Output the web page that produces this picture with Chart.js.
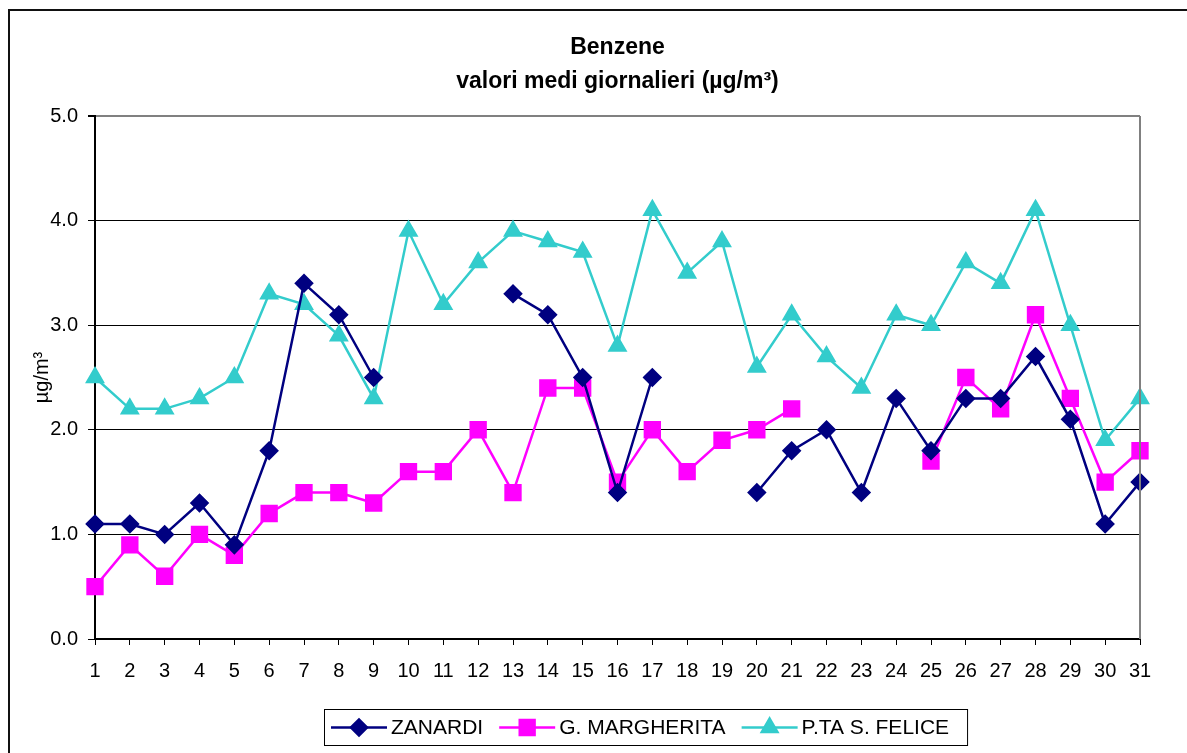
<!DOCTYPE html>
<html>
<head>
<meta charset="utf-8">
<script src="https://cdn.jsdelivr.net/npm/chart.js@4.4.0/dist/chart.umd.min.js"></script>
<style>
  html, body { margin: 0; padding: 0; background: #fff; overflow: hidden; }
  #wrap { position: relative; width: 1187px; height: 753px; }
  #frame { position: absolute; left: 8px; top: 9px; width: 2000px; height: 2000px;
           border: 2px solid #111; pointer-events: none; }
</style>
</head>
<body>
<div id="wrap">
  <canvas id="benzene" width="1187" height="753"></canvas>
  <div id="frame"></div>
</div>
<script>
// giorni del mese
const days = ['1','2','3','4','5','6','7','8','9','10','11','12','13','14','15','16',
              '17','18','19','20','21','22','23','24','25','26','27','28','29','30','31'];

// valori medi giornalieri (µg/m3), null = dato mancante
const zanardi = [1.1, 1.1, 1.0, 1.3, 0.9, 1.8, 3.4, 3.1, 2.5, null, null, null, 3.3, 3.1, 2.5, 1.4,
                 2.5, null, null, 1.4, 1.8, 2.0, 1.4, 2.3, 1.8, 2.3, 2.3, 2.7, 2.1, 1.1, 1.5];
const margherita = [0.5, 0.9, 0.6, 1.0, 0.8, 1.2, 1.4, 1.4, 1.3, 1.6, 1.6, 2.0, 1.4, 2.4, 2.4, 1.5,
                    2.0, 1.6, 1.9, 2.0, 2.2, null, null, null, 1.7, 2.5, 2.2, 3.1, 2.3, 1.5, 1.8];
const felice = [2.5, 2.2, 2.2, 2.3, 2.5, 3.3, 3.2, 2.9, 2.3, 3.9, 3.2, 3.6, 3.9, 3.8, 3.7, 2.8,
                4.1, 3.5, 3.8, 2.6, 3.1, 2.7, 2.4, 3.1, 3.0, 3.6, 3.4, 4.1, 3.0, 1.9, 2.3];

const yTicks = [0, 1, 2, 3, 4, 5];

const FONT = "'Liberation Sans', Arial, sans-serif";

// bordo destro dell'area del grafico + legenda in stile Excel
const excelFrame = {
    id: 'excelFrame',
    afterDatasetsDraw(chart) {
        const ctx = chart.ctx;
        const a = chart.chartArea;
        ctx.save();
        ctx.strokeStyle = '#808080';
        ctx.lineWidth = 2;
        ctx.beginPath();
        ctx.moveTo(a.right, a.top);
        ctx.lineTo(a.right, a.bottom);
        ctx.stroke();
        ctx.restore();
    },
    afterDraw(chart) {
        const ctx = chart.ctx;
        const sets = chart.data.datasets;
        const left = 324, top = 709, h = 36;
        const sample = 56, gapText = 4, gapItem = 16;
        ctx.save();
        ctx.font = '21px ' + FONT;
        let w = 7;
        sets.forEach((ds, i) => {
            w += sample + gapText + ctx.measureText(ds.label).width;
            if (i < sets.length - 1) w += gapItem;
        });
        w += 18;
        ctx.fillStyle = '#fff';
        ctx.fillRect(left, top, w, h);
        ctx.strokeStyle = '#000';
        ctx.lineWidth = 1;
        ctx.strokeRect(left + 0.5, top + 0.5, w, h);

        const cy = top + h / 2 + 0.5;
        let x = left + 7;
        sets.forEach((ds) => {
            ctx.strokeStyle = ds.borderColor;
            ctx.lineWidth = ds.borderWidth;
            ctx.beginPath();
            ctx.moveTo(x, cy);
            ctx.lineTo(x + sample, cy);
            ctx.stroke();
            Chart.helpers.drawPoint(ctx, {
                pointStyle: ds.pointStyle,
                radius: ds.pointRadius,
                rotation: 0,
                borderWidth: 1
            }, x + sample / 2, cy);
            ctx.fillStyle = ds.pointBackgroundColor;
            ctx.fill();
            x += sample + gapText;
            ctx.fillStyle = '#000';
            ctx.textBaseline = 'middle';
            ctx.textAlign = 'left';
            ctx.fillText(ds.label, x, cy + 1);
            x += ctx.measureText(ds.label).width + gapItem;
        });
        ctx.restore();
    }
};

const data = {
    labels: days,
    datasets: [{
        label: 'ZANARDI',
        data: zanardi,
        borderColor: '#000080',
        backgroundColor: '#000080',
        pointBackgroundColor: '#000080',
        pointBorderColor: '#000080',
        pointStyle: 'rectRot',
        pointRadius: 8,
        pointHoverRadius: 8,
        borderWidth: 2.5
    }, {
        label: 'G. MARGHERITA',
        data: margherita,
        borderColor: '#FF00FF',
        backgroundColor: '#FF00FF',
        pointBackgroundColor: '#FF00FF',
        pointBorderColor: '#FF00FF',
        pointStyle: 'rect',
        pointRadius: 10.5,
        pointHoverRadius: 10.5,
        borderWidth: 2.5
    }, {
        label: 'P.TA S. FELICE',
        data: felice,
        borderColor: '#33CCCC',
        backgroundColor: '#33CCCC',
        pointBackgroundColor: '#33CCCC',
        pointBorderColor: '#33CCCC',
        pointStyle: 'triangle',
        pointRadius: 9,
        pointHoverRadius: 9,
        borderWidth: 2.5
    }]
};

const config = {
    type: 'line',
    data: data,
    plugins: [excelFrame],
    options: {
        responsive: false,
        animation: false,
        spanGaps: false,
        layout: { padding: { left: 0, right: 47, top: 0, bottom: 0 } },
        elements: { line: { tension: 0 }, point: { borderWidth: 1 } },
        scales: {
            x: {
                offset: false,
                afterFit: (s) => { s.height = 114; },
                grid: {
                    drawOnChartArea: false,
                    tickLength: 6,
                    tickColor: '#000',
                    tickWidth: 1
                },
                border: { color: '#000', width: 2 },
                ticks: {
                    color: '#000',
                    font: { family: FONT, size: 20 },
                    padding: 14,
                    maxRotation: 0,
                    autoSkip: false
                }
            },
            y: {
                min: 0,
                max: 5,
                afterFit: (s) => { s.width = 95; },
                afterBuildTicks: (s) => { s.ticks = yTicks.map(v => ({ value: v })); },
                grid: {
                    color: (c) => c.tick && c.tick.value === 5 ? '#808080' : '#000',
                    lineWidth: (c) => c.tick && c.tick.value === 5 ? 2 : 1,
                    tickLength: 7,
                    tickColor: '#000'
                },
                border: { color: '#000', width: 2 },
                ticks: {
                    color: '#000',
                    font: { family: FONT, size: 20 },
                    padding: 10,
                    callback: (v) => Number(v).toFixed(1)
                },
                title: {
                    display: true,
                    text: 'µg/m³',
                    color: '#000',
                    font: { family: FONT, size: 20 },
                    padding: { top: 30, bottom: 0 }
                }
            }
        },
        plugins: {
            legend: { display: false },
            tooltip: { enabled: false },
            title: {
                display: true,
                fullSize: false,
                text: ['Benzene', 'valori medi giornalieri (µg/m³)'],
                color: '#000',
                font: { family: FONT, size: 23, weight: 'bold', lineHeight: 1.478 },
                padding: { top: 31, bottom: 17 }
            }
        }
    }
};

const benzeneChart = new Chart(
    document.getElementById('benzene'),
    config
);
</script>
</body>
</html>
